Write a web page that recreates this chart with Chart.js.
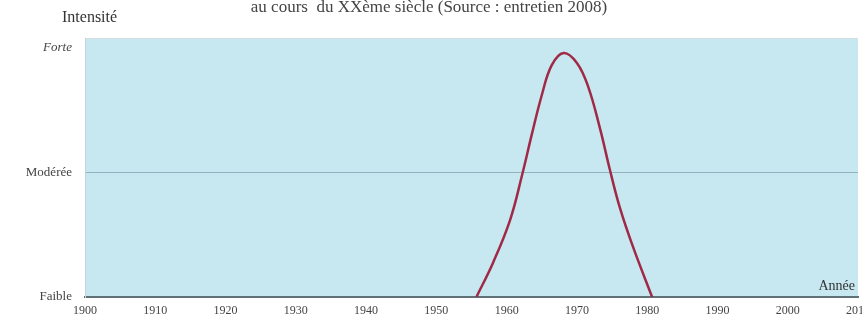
<!DOCTYPE html>
<html>
<head>
<meta charset="utf-8">
<script src="https://cdn.jsdelivr.net/npm/chart.js@4.4.1/dist/chart.umd.min.js"></script>
<style>
  html, body { margin: 0; padding: 0; background: #fff; }
  #wrap { width: 862px; height: 327px; }
</style>
</head>
<body>
<div id="wrap"><canvas id="intensityChart"></canvas></div>
<script>
// data
const years = [1955.7, 1958.1, 1960.5, 1962.2, 1963.6, 1965.0, 1966.4, 1968.1, 1970.0, 1971.6, 1973.3, 1974.7, 1976.1, 1978.0, 1980.7];
const intensity = [0, 0.28, 0.62, 0.98, 1.31, 1.62, 1.86, 1.96, 1.88, 1.69, 1.35, 1.02, 0.72, 0.40, 0];
const yearTicks = [1900, 1910, 1920, 1930, 1940, 1950, 1960, 1970, 1980, 1990, 2000, 2010];
const levelLabels = ['Faible', 'Modérée', 'Forte'];

document.addEventListener('DOMContentLoaded', function () {
    const serif = '"Liberation Serif", "DejaVu Serif", serif';

    // light blue plot background + axis captions
    const decor = {
        id: 'decor',
        beforeDraw(chart) {
            const a = chart.chartArea;
            const ctx = chart.ctx;
            ctx.save();
            ctx.fillStyle = '#c7e8f1';
            ctx.fillRect(a.left, a.top, a.right - a.left, a.bottom - a.top);
            ctx.strokeStyle = '#d4dde0';
            ctx.lineWidth = 1;
            ctx.beginPath();
            ctx.moveTo(a.left, a.top + 0.5);
            ctx.lineTo(a.right, a.top + 0.5);
            ctx.stroke();
            ctx.restore();
        },
        afterDraw(chart) {
            const a = chart.chartArea;
            const ctx = chart.ctx;
            ctx.save();
            ctx.fillStyle = '#333';
            ctx.textBaseline = 'middle';
            ctx.textAlign = 'left';
            ctx.font = '16px ' + serif;
            ctx.fillText('Intensité', 62, 18);
            ctx.textAlign = 'right';
            ctx.font = '14px ' + serif;
            ctx.fillText('Année', a.right - 3, a.bottom - 11);
            ctx.restore();
        }
    };

    const ctx = document.getElementById('intensityChart').getContext('2d');
    new Chart(ctx, {
        type: 'line',
        data: {
            datasets: [{
                data: years.map((y, i) => ({ x: y, y: intensity[i] })),
                borderColor: '#a02a46',
                borderWidth: 2.5,
                pointRadius: 0,
                tension: 0.4,
                fill: false
            }]
        },
        plugins: [decor],
        options: {
            responsive: true,
            maintainAspectRatio: false,
            animation: false,
            layout: { autoPadding: false, padding: { top: 0, right: 4, left: 0, bottom: 0 } },
            plugins: {
                legend: { display: false },
                tooltip: { enabled: false },
                title: {
                    display: true,
                    text: 'au cours  du XXème siècle (Source : entretien 2008)',
                    color: '#444',
                    font: { family: serif, size: 17, weight: 'normal' },
                    padding: { top: -3, bottom: 20.6 }
                }
            },
            scales: {
                x: {
                    type: 'linear',
                    min: yearTicks[0],
                    max: yearTicks[yearTicks.length - 1],
                    afterBuildTicks: s => { s.ticks = yearTicks.map(v => ({ value: v })); },
                    afterFit: s => { s.height = 30; s.paddingLeft = 0; s.paddingRight = 0; },
                    grid: { display: false, drawTicks: false },
                    border: { color: '#5f7076', width: 2 },
                    ticks: {
                        padding: 7,
                        maxRotation: 0,
                        autoSkip: false,
                        color: '#444',
                        font: { family: serif, size: 12 },
                        callback: v => String(v)
                    }
                },
                y: {
                    min: 0,
                    max: 2.08,
                    afterBuildTicks: s => { s.ticks = levelLabels.map((l, i) => ({ value: i })); },
                    afterFit: s => { s.width = 85; },
                    grid: {
                        drawTicks: false,
                        color: c => (c.tick && c.tick.value === 1) ? '#8fb4bd' : 'rgba(0,0,0,0)',
                        lineWidth: 1
                    },
                    border: { color: '#c9d3d6', width: 1 },
                    ticks: {
                        padding: 13,
                        color: '#444',
                        font: c => ({ family: serif, size: 13, style: (c.tick && c.tick.value === 2) ? 'italic' : 'normal' }),
                        callback: v => levelLabels[v]
                    }
                }
            }
        }
    });
});
</script>
</body>
</html>
